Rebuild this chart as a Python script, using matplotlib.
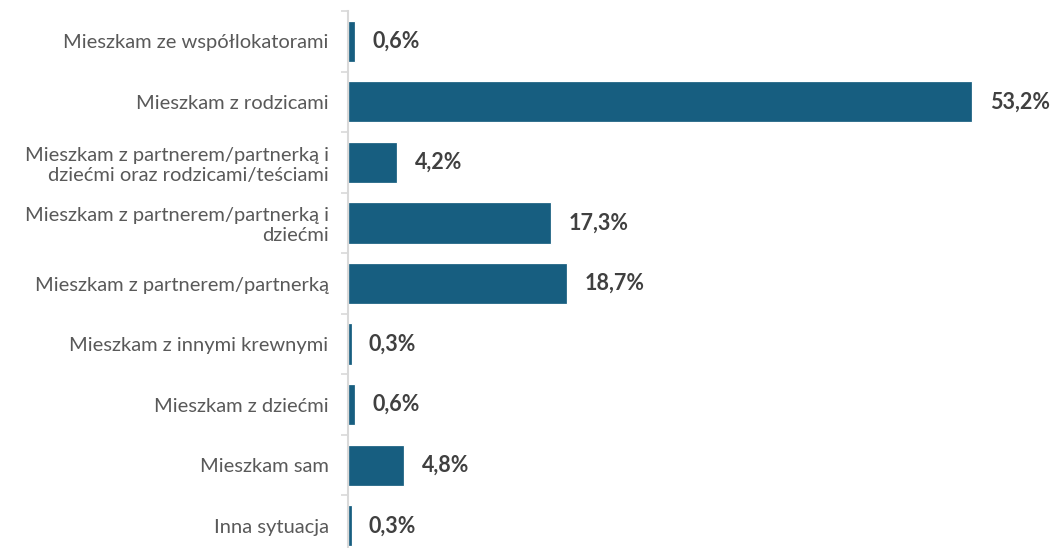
import matplotlib
matplotlib.use("Agg")
import matplotlib.pyplot as plt

categories = [
    "Mieszkam ze współlokatorami",
    "Mieszkam z rodzicami",
    "Mieszkam z partnerem/partnerką i\ndziećmi oraz rodzicami/teściami",
    "Mieszkam z partnerem/partnerką i\ndziećmi",
    "Mieszkam z partnerem/partnerką",
    "Mieszkam z innymi krewnymi",
    "Mieszkam z dziećmi",
    "Mieszkam sam",
    "Inna sytuacja",
]
values = [0.6, 53.2, 4.2, 17.3, 18.7, 0.3, 0.6, 4.8, 0.3]
labels = ["0,6%", "53,2%", "4,2%", "17,3%", "18,7%", "0,3%", "0,6%", "4,8%", "0,3%"]

plt.rcParams['font.family'] = ['Lato', 'DejaVu Sans']

fig = plt.figure(figsize=(10.52, 5.48), dpi=100)
ax = fig.add_axes([348/1052, -8/548, 1 - 348/1052, 545/548])

pos = list(range(len(categories)))
ax.barh(pos, values, height=0.68, color='#175E80', edgecolor='white', linewidth=0.9)
ax.set_ylim(len(categories) - 0.5, -0.5)
ax.set_xlim(0, 60)

for p, v, l in zip(pos, values, labels):
    ax.annotate(l, xy=(v, p), xytext=(12.5, 0), textcoords='offset points',
                ha='left', va='center', fontsize=15.5, fontweight='bold', color='#404040')

ax.set_yticks(pos)
ax.set_yticklabels(categories, fontsize=14.5, color='#595959', multialignment='right')
ax.set_yticks([p - 0.5 for p in pos] + [len(pos) - 0.5], minor=True)
ax.tick_params(axis='y', which='major', length=0, pad=14)
ax.tick_params(axis='y', which='minor', length=5, color='#d9d9d9', width=1.2)
ax.set_xticks([])
for s in ['top', 'right', 'bottom']:
    ax.spines[s].set_visible(False)
ax.spines['left'].set_color('#d9d9d9')
ax.spines['left'].set_linewidth(1.5)

fig.savefig('out.png', dpi=100)
